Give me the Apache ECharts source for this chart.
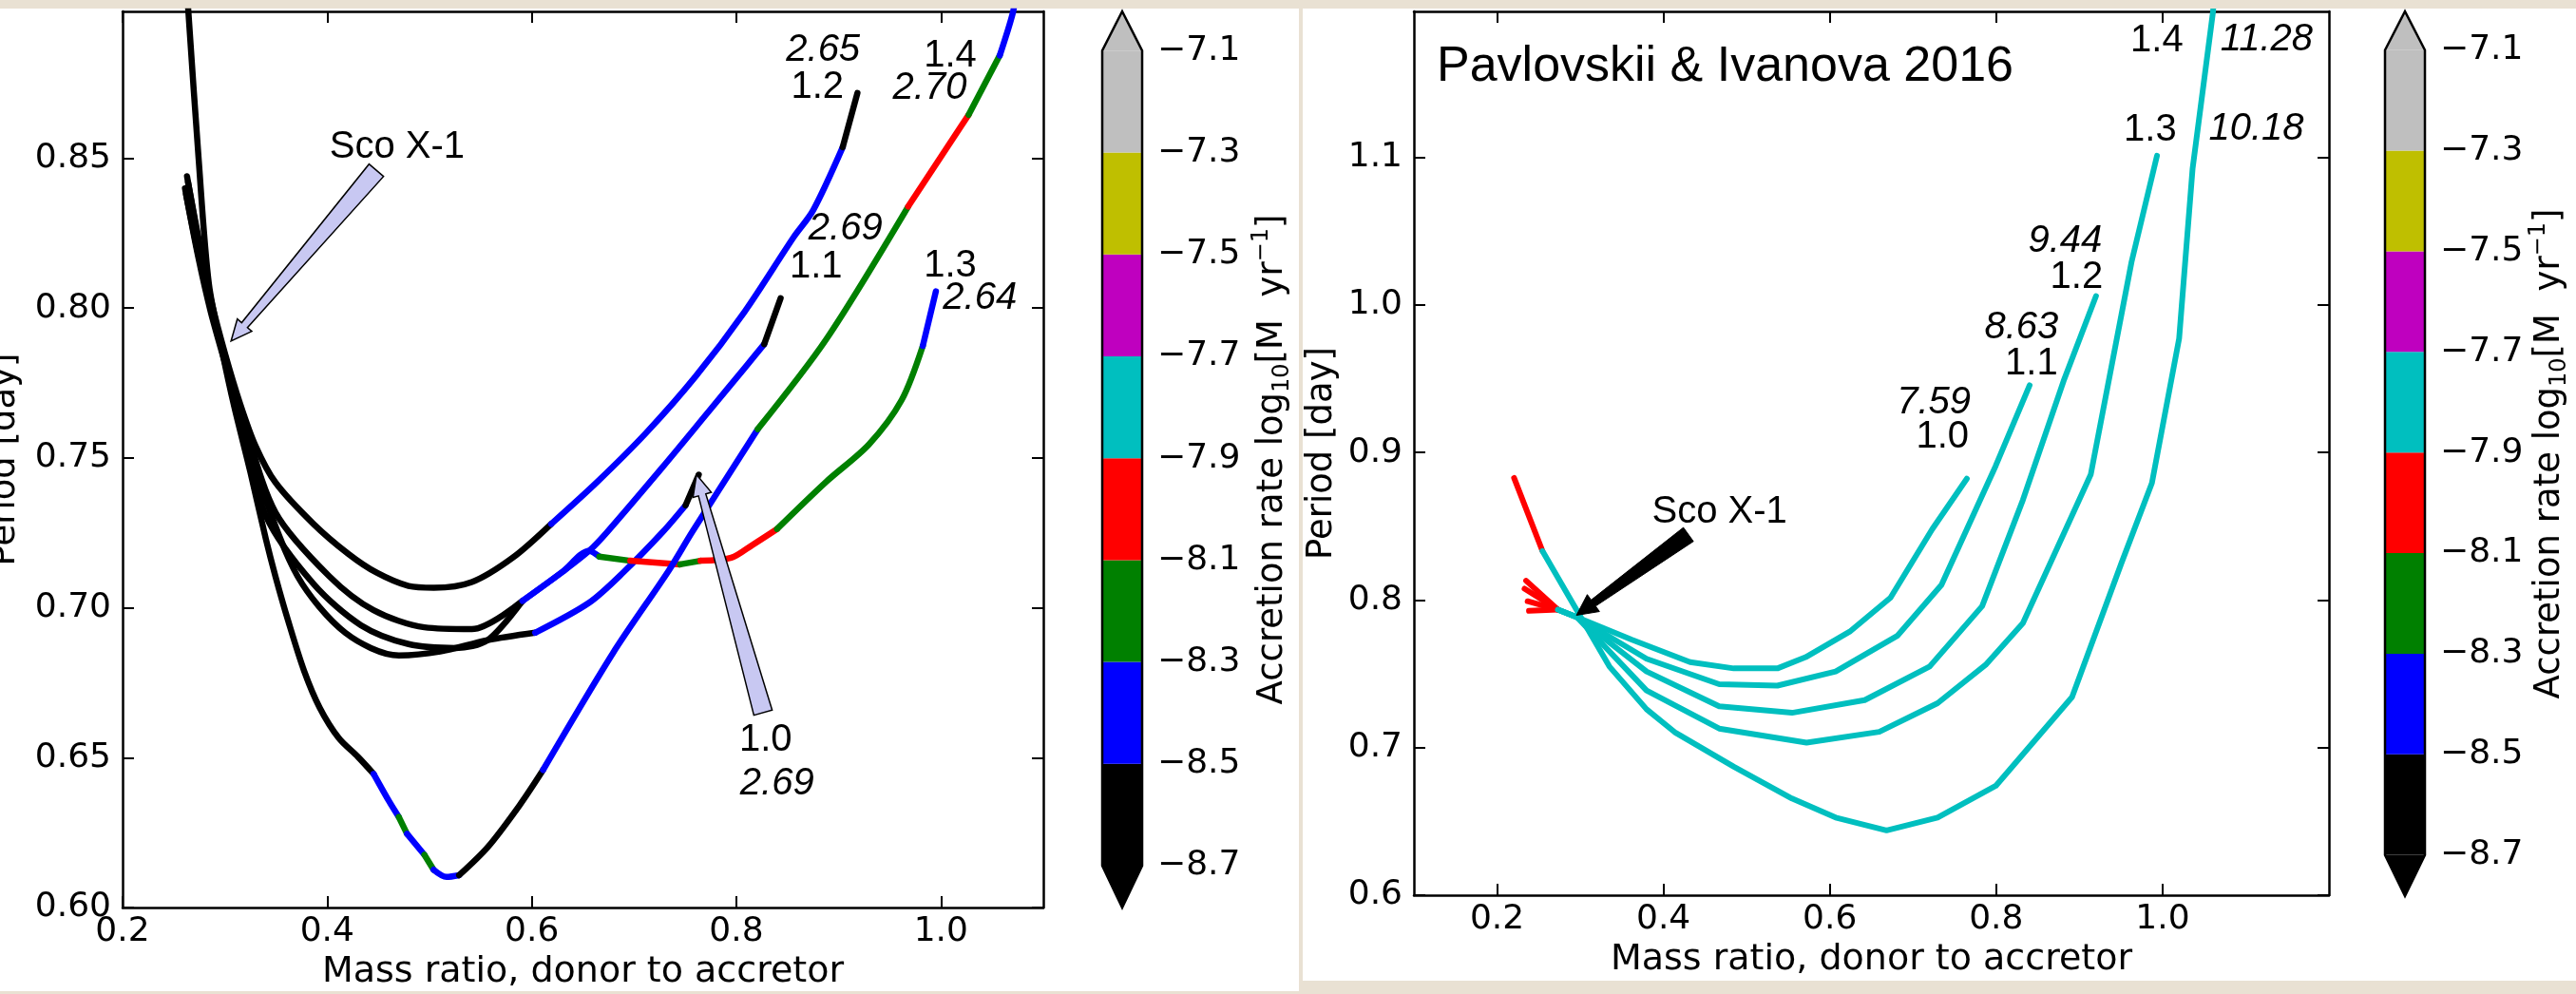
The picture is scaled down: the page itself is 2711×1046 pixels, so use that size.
<!DOCTYPE html>
<html><head><meta charset="utf-8">
<script src="https://cdn.jsdelivr.net/npm/echarts@6/dist/echarts.min.js"></script>
<style>
html,body{margin:0;padding:0;width:2711px;height:1046px;overflow:hidden;background:#e9e1d3;}
#lp{position:absolute;left:0;top:9px;width:1367px;height:1034px;background:#fff;}
#rp{position:absolute;left:1371px;top:9px;width:1340px;height:1023px;background:#fff;}
#chart{position:absolute;left:0;top:0;width:2711px;height:1046px;}
</style></head><body>
<div id="lp"></div><div id="rp"></div><div id="chart"></div>
<script>
// ---------- colour bar (log10 accretion rate bins) ----------
const cbEdges = [-8.7,-8.5,-8.3,-8.1,-7.9,-7.7,-7.5,-7.3,-7.1];
const cbColors = ['#000000','#0000ff','#008000','#ff0000','#00bfbf','#bf00bf','#bfbf00','#bfbfbf'];
const cbExtendMin = -8.782, cbExtendMax = -7.023;
const cbTickValues = [-8.7,-8.5,-8.3,-8.1,-7.9,-7.7,-7.5,-7.3,-7.1];

// ---------- axis ticks ----------
const leftXTicks = [0.2,0.4,0.6,0.8,1.0];
const leftYTicks = [0.60,0.65,0.70,0.75,0.80,0.85];
const rightXTicks = [0.2,0.4,0.6,0.8,1.0];
const rightYTicks = [0.6,0.7,0.8,0.9,1.0,1.1];

// ---------- left panel tracks: mass ratio q, period P [day], log10 accretion rate ----------
const L10_q = [0.263,0.275,0.287,0.298,0.312,0.334,0.3711,0.4176,0.4702,0.5104,0.5568,0.6033,0.656,0.69,0.728,0.7503,0.7632];
const L10_p = [0.844,0.821,0.801,0.786,0.766,0.7418,0.7105,0.6917,0.6841,0.6854,0.6892,0.6917,0.7017,0.712,0.7253,0.7342,0.7444];
const L10_r = [-8.6,-8.6,-8.6,-8.6,-8.6,-8.6,-8.6,-8.6,-8.6,-8.6,-8.6,-8.4,-8.4,-8.4,-8.4,-8.6,-8.6];

const L11_q = [0.261,0.274,0.287,0.300,0.318,0.3495,0.4021,0.4454,0.495,0.5414,0.5909,0.63,0.656,0.6737,0.728,0.7729,0.808,0.8272,0.8432];
const L11_p = [0.840,0.818,0.800,0.784,0.763,0.7318,0.7105,0.6992,0.6935,0.6929,0.7023,0.712,0.719,0.7253,0.7470,0.7655,0.7800,0.788,0.8033];
const L11_r = [-8.6,-8.6,-8.6,-8.6,-8.6,-8.6,-8.6,-8.6,-8.6,-8.6,-8.4,-8.4,-8.4,-8.4,-8.4,-8.4,-8.4,-8.6,-8.6];

const L12_q = [0.264,0.275,0.287,0.300,0.315,0.330,0.3495,0.3866,0.4207,0.4485,0.4795,0.5043,0.5414,0.5816,0.619,0.6642,0.7121,0.7601,0.808,0.856,0.8751,0.9039,0.9183];
const L12_p = [0.842,0.822,0.802,0.785,0.768,0.754,0.7418,0.728,0.718,0.7117,0.7073,0.7067,0.7086,0.7168,0.728,0.7421,0.7585,0.7772,0.7988,0.8237,0.8327,0.8537,0.8718];
const L12_r = [-8.6,-8.6,-8.6,-8.6,-8.6,-8.6,-8.6,-8.6,-8.6,-8.6,-8.6,-8.6,-8.6,-8.6,-8.4,-8.4,-8.4,-8.4,-8.4,-8.4,-8.4,-8.6,-8.6];

const L13_q = [0.262,0.274,0.286,0.299,0.318,0.3402,0.3866,0.433,0.4795,0.5259,0.5568,0.5909,0.63,0.656,0.666,0.6963,0.745,0.765,0.795,0.8157,0.8397,0.8879,0.9295,0.9615,0.9822,0.995];
const L13_p = [0.838,0.817,0.799,0.783,0.760,0.7306,0.708,0.6942,0.6879,0.6866,0.6892,0.7023,0.712,0.719,0.7171,0.7157,0.7145,0.7157,0.7167,0.721,0.7263,0.7421,0.7545,0.7693,0.7874,0.8056];
const L13_r = [-8.6,-8.6,-8.6,-8.6,-8.6,-8.6,-8.6,-8.6,-8.6,-8.6,-8.6,-8.4,-8.4,-8.4,-8.2,-8.0,-8.2,-8.0,-8.0,-8.0,-8.2,-8.2,-8.2,-8.2,-8.4,-8.4];

const L14_q = [0.2635,0.2743,0.2844,0.298,0.3093,0.3247,0.340,0.3495,0.362,0.3773,0.3928,0.4114,0.430,0.4454,0.4609,0.470,0.478,0.495,0.504,0.5166,0.529,0.5568,0.5878,0.611,0.6795,0.734,0.7568,0.8208,0.888,0.9679,1.027,1.0574,1.0702,1.073];
const L14_p = [0.903,0.850,0.808,0.7845,0.7669,0.7456,0.723,0.7104,0.6955,0.6791,0.6666,0.6565,0.6503,0.6446,0.6352,0.6302,0.6246,0.6176,0.6126,0.6102,0.6108,0.6201,0.634,0.6459,0.685,0.7125,0.7253,0.7596,0.7897,0.8339,0.8645,0.8843,0.8985,0.905];
const L14_r = [-8.6,-8.6,-8.6,-8.6,-8.6,-8.6,-8.6,-8.6,-8.6,-8.6,-8.6,-8.6,-8.6,-8.4,-8.4,-8.2,-8.4,-8.2,-8.4,-8.4,-8.6,-8.6,-8.6,-8.4,-8.4,-8.4,-8.4,-8.2,-8.2,-8.0,-8.2,-8.4,-8.4,-8.4];

// ---------- right panel tracks (Pavlovskii & Ivanova 2016) ----------
const R10_q = [0.2349,0.273,0.296,0.3622,0.432,0.4845,0.537,0.5709,0.6239,0.6729,0.723,0.7647];
const R10_p = [0.8131,0.7935,0.7884,0.7731,0.758,0.7537,0.7537,0.7613,0.7786,0.8016,0.848,0.8823];
const R10_r = [-8.0,-7.8,-7.8,-7.8,-7.8,-7.8,-7.8,-7.8,-7.8,-7.8,-7.8,-7.8];

const R11_q = [0.233,0.273,0.296,0.3797,0.467,0.537,0.607,0.681,0.7342,0.7994,0.8402];
const R11_p = [0.8077,0.7935,0.7884,0.7602,0.743,0.742,0.7516,0.7757,0.8103,0.891,0.9456];
const R11_r = [-8.0,-7.8,-7.8,-7.8,-7.8,-7.8,-7.8,-7.8,-7.8,-7.8,-7.8];

const R12_q = [0.2367,0.273,0.296,0.3797,0.467,0.5545,0.6419,0.72,0.7831,0.8321,0.881,0.92];
const R12_p = [0.7992,0.7935,0.7884,0.7516,0.728,0.7236,0.7322,0.755,0.7959,0.8679,0.9485,1.0061];
const R12_r = [-8.0,-7.8,-7.8,-7.8,-7.8,-7.8,-7.8,-7.8,-7.8,-7.8,-7.8,-7.8];

const R13_q = [0.2383,0.273,0.296,0.3797,0.467,0.572,0.6594,0.7295,0.7872,0.8321,0.9137,0.9627,0.9933];
const R13_p = [0.7927,0.7935,0.7884,0.7387,0.7129,0.7034,0.7107,0.7301,0.7561,0.7844,0.8852,1.0292,1.1012];
const R13_r = [-8.0,-7.8,-7.8,-7.8,-7.8,-7.8,-7.8,-7.8,-7.8,-7.8,-7.8,-7.8,-7.8];

const R14_q = [0.2204,0.2545,0.301,0.335,0.3797,0.4147,0.4847,0.5545,0.607,0.6682,0.7295,0.7995,0.8912,0.9503,0.9872,1.0199,1.0361,1.0607,1.062];
const R14_p = [0.8828,0.8333,0.788,0.755,0.7260,0.7100,0.687,0.6655,0.6526,0.6439,0.6526,0.6741,0.7343,0.8247,0.8794,0.9773,1.0925,1.199,1.21];
const R14_r = [-8.0,-7.8,-7.8,-7.8,-7.8,-7.8,-7.8,-7.8,-7.8,-7.8,-7.8,-7.8,-7.8,-7.8,-7.8,-7.8,-7.8,-7.8,-7.8];

// ---------- annotations ----------
const leftLabelText = ['2.65','1.2','1.4','2.70','2.69','1.1','1.3','2.64','1.0','2.69','Sco X-1'];
const leftLabelX = [0.8847,0.8792,1.009,0.989,0.9066,0.8778,1.009,1.038,0.8286,0.8397,0.4683];
const leftLabelY = [0.8860,0.8738,0.8841,0.8735,0.8265,0.8137,0.8140,0.8032,0.6558,0.6412,0.8538];
const leftLabelItalic = [1,0,0,1,1,0,0,1,0,1,0];

const rightLabelText = ['1.4','11.28','1.3','10.18','9.44','1.2','8.63','1.1','7.59','1.0','Sco X-1'];
const rightLabelX = [0.9931,1.1251,0.9851,1.1126,0.8829,0.8966,0.8303,0.8423,0.7249,0.7354,0.4674];
const rightLabelY = [1.179,1.1797,1.1184,1.119,1.0435,1.0184,0.9845,0.9602,0.9334,0.9106,0.8594];
const rightLabelItalic = [0,1,0,1,1,0,1,0,1,0,0];
const rightTitle = 'Pavlovskii & Ivanova 2016';
const rightTitlePos = [0.1274, 1.1613];

// arrows: [tipX, tipY, tailX, tailY]
const leftArrows = [[0.306,0.789,0.448,0.846],[0.761,0.7444,0.826,0.665]];
const rightArrows = [[0.2954,0.7897,0.430,0.8445]];

// ---------------------------------------------------------------
const FONT = 'DejaVu Sans';
const ANN_FONT = '"Liberation Sans", Arial, sans-serif';

function binOf(r){
  for (let i=0;i<cbEdges.length-1;i++){ if (r>=cbEdges[i]-1e-9 && r<cbEdges[i+1]-1e-9) return i; }
  return cbEdges.length-2;
}
function segSeries(qs, ps, rs, xi, yi, width, smooth){
  const out=[]; let start=0;
  for (let i=1;i<qs.length;i++){
    const last = i===qs.length-1;
    if (last || binOf(rs[i])!==binOf(rs[start])){
      const pts=[]; for(let k=start;k<=i;k++) pts.push([qs[k],ps[k]]);
      out.push({type:'line',xAxisIndex:xi,yAxisIndex:yi,data:pts,showSymbol:false,symbol:'none',
        smooth:smooth,silent:true,z:3,animation:false,
        lineStyle:{color:cbColors[binOf(rs[start])],width:width,cap:'round',join:'round'}});
      start=i;
    }
  }
  return out;
}
function textSeries(texts,xs,ys,ital,xi,yi,size,align){
  const rows=texts.map((t,i)=>[xs[i],ys[i],i]);
  return {type:'custom',xAxisIndex:xi,yAxisIndex:yi,data:rows,z:9,silent:true,animation:false,clip:false,
    renderItem:function(params,api){
      const i=api.value(2), p=api.coord([api.value(0),api.value(1)]);
      return {type:'text',x:p[0],y:p[1],z2:20,
        style:{text:texts[i],fill:'#000',align:align,verticalAlign:'middle',
          font:(ital[i]?'italic ':'')+size+'px '+ANN_FONT}};
    }};
}
function arrowSeries(rows,xi,yi,spec){
  return {type:'custom',xAxisIndex:xi,yAxisIndex:yi,data:rows,z:8,silent:true,animation:false,clip:false,
    encode:{x:[0,2],y:[1,3]},
    renderItem:function(params,api){
      const tip=api.coord([api.value(0),api.value(1)]);
      const tail=api.coord([api.value(2),api.value(3)]);
      const dx=tip[0]-tail[0], dy=tip[1]-tail[1], L=Math.hypot(dx,dy);
      const ux=dx/L, uy=dy/L, nx=-uy, ny=ux;
      const bx=tip[0]-ux*spec.headLen, by=tip[1]-uy*spec.headLen;
      const pts=[tip,
        [bx+nx*spec.headHalf,by+ny*spec.headHalf],
        [bx+nx*spec.neckHalf,by+ny*spec.neckHalf],
        [tail[0]+nx*spec.tailHalf,tail[1]+ny*spec.tailHalf],
        [tail[0]-nx*spec.tailHalf,tail[1]-ny*spec.tailHalf],
        [bx-nx*spec.neckHalf,by-ny*spec.neckHalf],
        [bx-nx*spec.headHalf,by-ny*spec.headHalf]];
      return {type:'polygon',shape:{points:pts},style:{fill:spec.fill,stroke:'#000',lineWidth:spec.stroke}};
    }};
}
function colorbarSeries(xi,yi){
  const rows=[];
  for(let i=0;i<cbColors.length;i++) rows.push([cbEdges[i],cbEdges[i+1],i,0]);
  rows.push([cbEdges[cbEdges.length-1],cbExtendMax,cbColors.length-1,1]);
  rows.push([cbExtendMin,cbEdges[0],0,2]);
  rows.push([cbExtendMin,cbExtendMax,0,3]);
  return {type:'custom',xAxisIndex:xi,yAxisIndex:yi,data:rows,silent:true,animation:false,clip:false,
    renderItem:function(params,api){
      const lo=api.value(0), hi=api.value(1), ci=api.value(2), kind=api.value(3);
      const xL=api.coord([0,lo])[0], xR=api.coord([1,lo])[0], xm=(xL+xR)/2;
      const yLo=api.coord([0,lo])[1], yHi=api.coord([0,hi])[1];
      if(kind===0) return {type:'rect',shape:{x:xL,y:yHi,width:xR-xL,height:yLo-yHi},style:{fill:cbColors[ci]}};
      if(kind===1) return {type:'polygon',shape:{points:[[xL,yLo],[xR,yLo],[xm,yHi]]},style:{fill:cbColors[ci]}};
      if(kind===2) return {type:'polygon',shape:{points:[[xL,yHi],[xR,yHi],[xm,yLo]]},style:{fill:cbColors[ci]}};
      const yTop=api.coord([0,cbEdges[cbEdges.length-1]])[1], yBot=api.coord([0,cbEdges[0]])[1];
      return {type:'polygon',z2:10,shape:{points:[[xL,yTop],[xm,yHi],[xR,yTop],[xR,yBot],[xm,yLo],[xL,yBot]]},
        style:{fill:'none',stroke:'#000',lineWidth:2.5}};
    }};
}

const axLine={show:true,onZero:false,lineStyle:{color:'#000',width:2.5}};
function tickCfg(vals){return {show:true,inside:true,length:12,customValues:vals,lineStyle:{color:'#000',width:2}};}
function xAx(grid,min,max,ticks,pos,showLab,fmt,name,gap){
  return {type:'value',gridIndex:grid,position:pos,min:min,max:max,axisLine:axLine,axisTick:tickCfg(ticks),
    splitLine:{show:false},
    axisLabel:{show:showLab,customValues:ticks,margin:8,formatter:fmt,color:'#000',fontFamily:FONT,fontSize:36},
    name:name||'',nameLocation:'middle',nameGap:gap||0,
    nameTextStyle:{fontFamily:FONT,fontSize:38,color:'#000'}};
}
function yAx(grid,min,max,ticks,pos,showLab,fmt,name,gap){
  return {type:'value',gridIndex:grid,position:pos,min:min,max:max,axisLine:axLine,axisTick:tickCfg(ticks),
    splitLine:{show:false},
    axisLabel:{show:showLab,customValues:ticks,margin:12,formatter:fmt,color:'#000',fontFamily:FONT,fontSize:36},
    name:name||'',nameLocation:'middle',nameGap:gap||0,
    nameTextStyle:{fontFamily:FONT,fontSize:37,color:'#000'}};
}
function cbYAx(grid,gap){
  return {type:'value',gridIndex:grid,position:'right',min:cbExtendMin,max:cbExtendMax,
    axisLine:{show:false},axisTick:{show:false},splitLine:{show:false},
    axisLabel:{show:true,customValues:cbTickValues,margin:16,color:'#000',fontFamily:FONT,fontSize:36,
      formatter:v=>'\u2212'+Math.abs(v).toFixed(1)},
    name:'{n|Accretion rate log}{s|10}{n|[M  yr}{p|\u22121}{n|]}',nameLocation:'middle',nameGap:gap,
    nameTextStyle:{fontFamily:FONT,fontSize:37,color:'#000',
      rich:{n:{fontFamily:FONT,fontSize:37,color:'#000',lineHeight:46,verticalAlign:'middle'},
            s:{fontFamily:FONT,fontSize:24,color:'#000',lineHeight:46,verticalAlign:'bottom'},
            p:{fontFamily:FONT,fontSize:24,color:'#000',lineHeight:46,verticalAlign:'top'}}}};
}
const f1=v=>v.toFixed(1), f2=v=>v.toFixed(2);

const series=[];
[[L10_q,L10_p,L10_r],[L11_q,L11_p,L11_r],[L12_q,L12_p,L12_r],[L13_q,L13_p,L13_r],[L14_q,L14_p,L14_r]]
  .forEach(t=>series.push(...segSeries(t[0],t[1],t[2],0,0,6.5,0.3)));
[[R10_q,R10_p,R10_r],[R11_q,R11_p,R11_r],[R12_q,R12_p,R12_r],[R13_q,R13_p,R13_r],[R14_q,R14_p,R14_r]]
  .forEach(t=>series.push(...segSeries(t[0],t[1],t[2],3,3,6,false)));
series.push(textSeries(leftLabelText,leftLabelX,leftLabelY,leftLabelItalic,0,0,40,'center'));
series.push(textSeries(rightLabelText,rightLabelX,rightLabelY,rightLabelItalic,3,3,40,'center'));
series.push(textSeries([rightTitle],[rightTitlePos[0]],[rightTitlePos[1]],[0],3,3,52,'left'));
series.push(arrowSeries(leftArrows,0,0,{headLen:22,headHalf:10,neckHalf:4,tailHalf:10,fill:'#c8c8f2',stroke:1.5}));
series.push(arrowSeries(rightArrows,3,3,{headLen:22,headHalf:11,neckHalf:4,tailHalf:9,fill:'#000',stroke:1}));
series.push(colorbarSeries(2,2));
series.push(colorbarSeries(5,5));

const option={
  backgroundColor:'transparent',animation:false,
  textStyle:{fontFamily:FONT},
  grid:[
    {left:129,top:12,width:969,height:943,containLabel:false,outerBoundsMode:'none'},
    {left:1160,top:12,width:42,height:943,containLabel:false,outerBoundsMode:'none'},
    {left:1488,top:12,width:963,height:930,containLabel:false,outerBoundsMode:'none'},
    {left:2510,top:12,width:42,height:931,containLabel:false,outerBoundsMode:'none'}
  ],
  xAxis:[
    xAx(0,0.2,1.1,leftXTicks,'bottom',true,f1,'Mass ratio, donor to accretor',45),
    xAx(0,0.2,1.1,leftXTicks,'top',false,f1),
    {type:'value',gridIndex:1,min:0,max:1,show:false},
    xAx(2,0.1,1.2,rightXTicks,'bottom',true,f1,'Mass ratio, donor to accretor',48),
    xAx(2,0.1,1.2,rightXTicks,'top',false,f1),
    {type:'value',gridIndex:3,min:0,max:1,show:false}
  ],
  yAxis:[
    yAx(0,0.6,0.899,leftYTicks,'left',true,f2,'Period [day]',105),
    yAx(0,0.6,0.899,leftYTicks,'right',false,f2),
    cbYAx(1,114),
    yAx(2,0.6,1.199,rightYTicks,'left',true,f1,'Period [day]',78),
    yAx(2,0.6,1.199,rightYTicks,'right',false,f1),
    cbYAx(3,108)
  ],
  series:series
};
const chart=echarts.init(document.getElementById('chart'),null,{renderer:'canvas'});
chart.setOption(option);
</script></body></html>
